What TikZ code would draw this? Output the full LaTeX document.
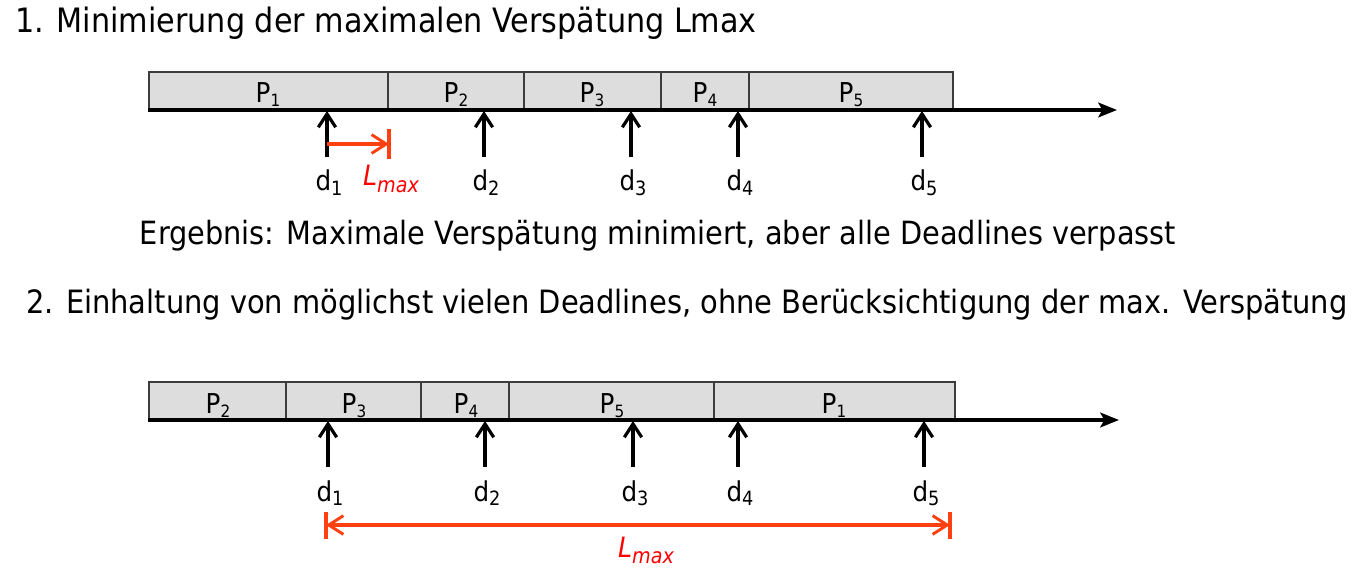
\documentclass[tikz,border=0pt]{standalone}
\usepackage{fontspec}
\setmainfont{DejaVu Sans Condensed}
\usetikzlibrary{arrows.meta}
\definecolor{segfill}{RGB}{221,221,221}
\definecolor{segline}{RGB}{60,60,60}
\definecolor{lateline}{RGB}{255,64,16}
\definecolor{latetext}{RGB}{255,0,0}
% lowered, scaled index: text, scale, drop
\newcommand{\lowidx}[3]{\raisebox{-#3}{\scalebox{#2}{#1}}}
\newcommand{\pname}[1]{P\lowidx{#1}{0.62}{3pt}}
\newcommand{\dname}[1]{d\lowidx{#1}{0.72}{3.6pt}}
\newcommand{\lmaxlabel}{\textit{L\lowidx{max}{0.76}{4.6pt}}}
\tikzset{
  seg/.style={fill=segfill,draw=segline,line width=1.2pt},
  axis/.style={line width=2.6pt,-{Stealth[length=14pt,width=11pt,inset=3pt]}},
  dl/.style={line width=3pt,-{Straight Barb[length=10pt,width=13pt,line width=2.4pt]}},
  late/.style={draw=lateline,line width=2.3pt},
  latetip/.tip={Straight Barb[length=11pt,width=14pt,line width=2.2pt]},
  latearrow/.style={late,-latetip},
  plabel/.style={font=\fontsize{20.5}{20.5}\selectfont,anchor=base},
  dlabel/.style={font=\fontsize{20.5}{20.5}\selectfont,anchor=base},
  lmaxtext/.style={font=\fontsize{21}{21}\selectfont,text=latetext,anchor=base},
}
\begin{document}
\begin{tikzpicture}[x=0.75pt,y=-0.75pt]
\useasboundingbox (0,0) rectangle (1359,570);

% ---------- Part 1 ----------
\node[font=\fontsize{25.2}{25}\selectfont,anchor=base west,inner sep=0] (t1) at (15,33) {1. Minimierung der maximalen Verspätung Lmax};

\draw[seg] (149,72) rectangle (388,110);
\draw[seg] (388,72) rectangle (524,110);
\draw[seg] (524,72) rectangle (661,110);
\draw[seg] (661,72) rectangle (749,110);
\draw[seg] (749,72) rectangle (953,110);
\node[plabel] (a1) at (268,103) {\pname{1}};
\node[plabel] (a2) at (456,103) {\pname{2}};
\node[plabel] (a3) at (592,103) {\pname{3}};
\node[plabel] (a4) at (705,103) {\pname{4}};
\node[plabel] (a5) at (851,103) {\pname{5}};

\coordinate (ax1s) at (148,110);
\coordinate (ax1e) at (1117,110);
\draw[axis] (ax1s) -- (ax1e);

\foreach \i/\x in {1/327,2/484,3/631,4/738,5/922}{
  \coordinate (ub\i) at (\x,157);
  \coordinate (ut\i) at (\x,111);
  \draw[dl] (ub\i) -- (ut\i);
  \node[dlabel] (ud\i) at (\x+2,191) {\dname{\i}};
}

\coordinate (l1e) at (389,144);
\coordinate (l1t) at (389,129);
\coordinate (l1b) at (389,159);
\draw[latearrow] (ub1 |- l1e) -- (l1e);
\draw[late] (l1t) -- (l1b);
\node[lmaxtext] (lm1) at (391,186) {\lmaxlabel};

\node[font=\fontsize{24}{24}\selectfont,anchor=base] (res) at (658,245) {Ergebnis: Maximale Verspätung minimiert, aber alle Deadlines verpasst};

% ---------- Part 2 ----------
\node[font=\fontsize{24.1}{24}\selectfont,anchor=base west,inner sep=0] (t2) at (26,313) {2. Einhaltung von möglichst vielen Deadlines, ohne Berücksichtigung der max. Verspätung};

\draw[seg] (149,382) rectangle (286,420);
\draw[seg] (286,382) rectangle (421,420);
\draw[seg] (421,382) rectangle (509,420);
\draw[seg] (509,382) rectangle (714,420);
\draw[seg] (714,382) rectangle (955,420);
\node[plabel] (b2) at (218,413) {\pname{2}};
\node[plabel] (b3) at (354,413) {\pname{3}};
\node[plabel] (b4) at (466,413) {\pname{4}};
\node[plabel] (b5) at (612,413) {\pname{5}};
\node[plabel] (b1) at (834,413) {\pname{1}};

\coordinate (ax2s) at (148,420);
\coordinate (ax2e) at (1119,420);
\draw[axis] (ax2s) -- (ax2e);

\foreach \i/\x in {1/328,2/485,3/633,4/738,5/924}{
  \coordinate (vb\i) at (\x,467);
  \coordinate (vt\i) at (\x,421);
  \draw[dl] (vb\i) -- (vt\i);
  \node[dlabel] (vd\i) at (\x+2,501) {\dname{\i}};
}

\coordinate (l2s) at (326,525);
\coordinate (l2e) at (950,525);
\draw[late,latetip-latetip] (l2s) -- (l2e);
\draw[late] (326,512) -- (326,539);
\draw[late] (950,512) -- (950,539);
\node[lmaxtext] (lm2) at (646,557) {\lmaxlabel};
\end{tikzpicture}
\end{document}
